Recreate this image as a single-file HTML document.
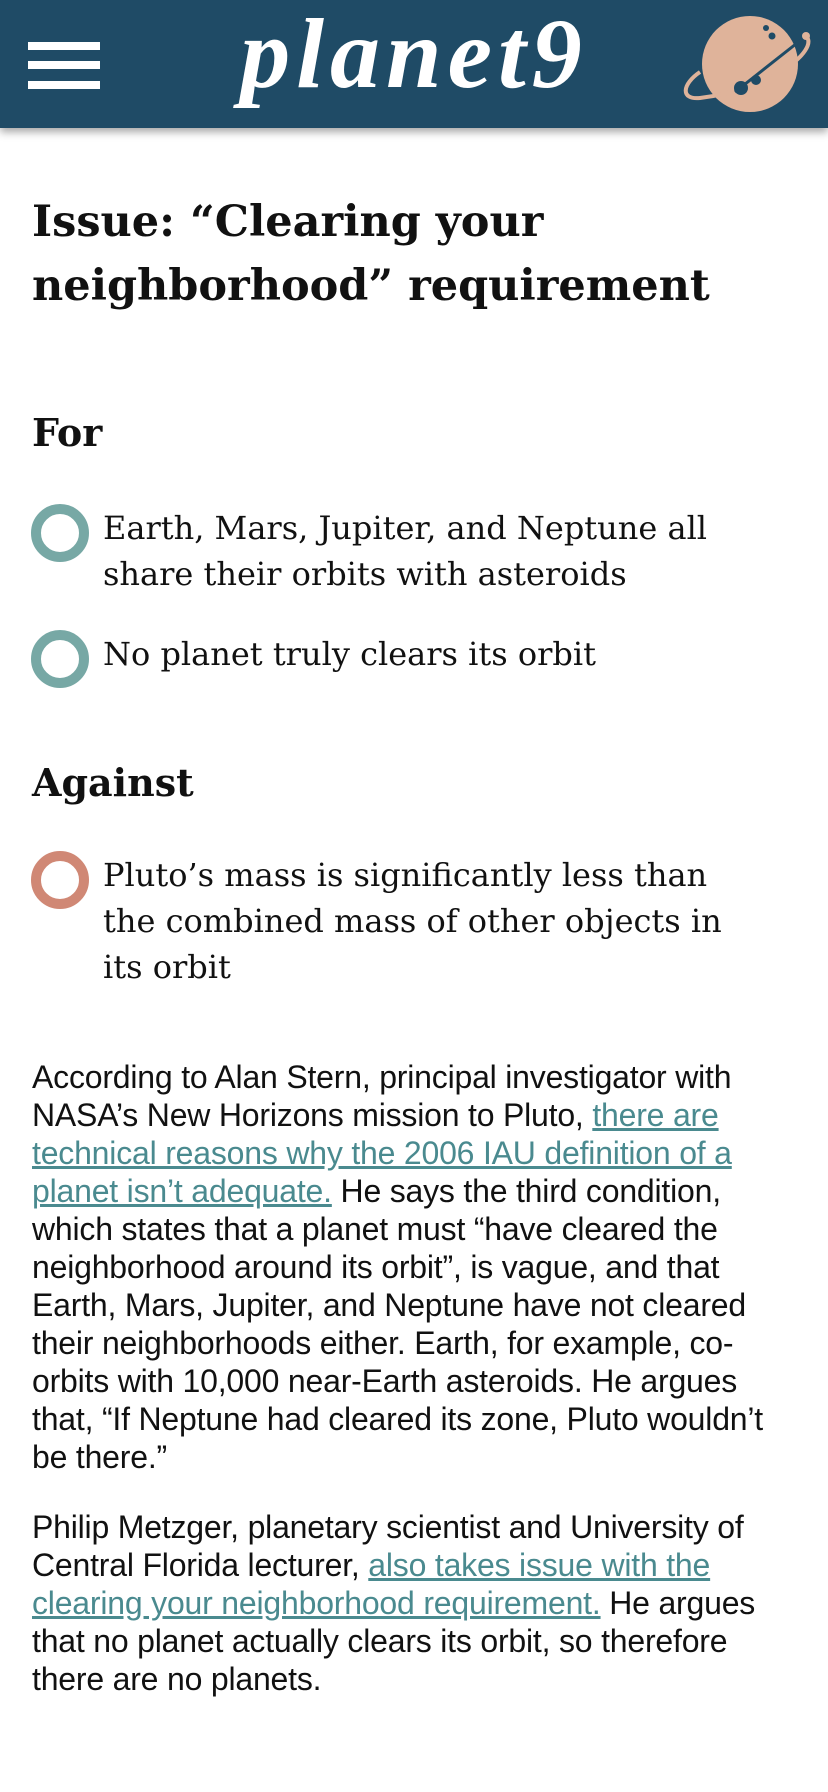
<!DOCTYPE html>
<html><head><meta charset="utf-8"><style>
*{margin:0;padding:0;box-sizing:border-box}
body{width:828px;height:1792px;background:#fff;position:relative;overflow:hidden;font-family:"DejaVu Serif",serif;color:#111}
.hdr{position:absolute;left:0;top:0;width:828px;height:128px;background:#1f4b66;box-shadow:0 4px 8px rgba(0,0,0,.35)}
.bar{position:absolute;left:28px;width:72px;height:8px;background:#fff}
.logo{position:absolute;left:0;width:828px;top:4px;text-align:center;font:italic bold 100px/1 "Liberation Serif",serif;color:#fff;letter-spacing:6px}
h1{position:absolute;left:32px;top:190px;font:bold 43px/64px "DejaVu Serif",serif;color:#111}
.h2{position:absolute;left:32px;font:bold 38px "DejaVu Serif",serif}
.ring{position:absolute;left:31px;width:58px;height:58px;border-radius:50%;border:10px solid #77a8a5}
.ring.red{border-color:#d08875}
.item{position:absolute;left:103px;font:32px/46px "DejaVu Serif",serif;white-space:nowrap}
.p{position:absolute;left:32px;font:32px/38px "Liberation Sans",sans-serif;white-space:nowrap;color:#111;letter-spacing:-0.2px}
a{color:#4a8a8f;text-decoration:underline}
</style></head><body>
<div class="hdr">
 <div>
  <div class="bar" style="top:42px"></div><div class="bar" style="top:61px"></div><div class="bar" style="top:81px"></div>
 </div>
 <div class="logo">planet9</div>
 <svg style="position:absolute;left:680px;top:10px" width="140" height="110" viewBox="680 10 140 110">
  <ellipse cx="750" cy="64" rx="48" ry="48" fill="#dfb39a"/>
  <path d="M806 36 C820 50 770 90 700 98 C680 100 682 84 700 72" fill="none" stroke="#dfb39a" stroke-width="4"/>
  <path d="M806 36 L735 92" stroke="#1f4b66" stroke-width="3"/>
  <circle cx="741" cy="88" r="7" fill="#1f4b66"/><circle cx="756" cy="80" r="5" fill="#1f4b66"/>
  <circle cx="766" cy="28" r="3" fill="#1f4b66"/><circle cx="772" cy="36" r="3.5" fill="#1f4b66"/>
  <circle cx="806" cy="36" r="4" fill="#dfb39a"/>
 </svg>
</div>
<h1>Issue: “Clearing your<br>neighborhood” requirement</h1>
<div class="h2" style="top:410px">For</div>
<div class="ring" style="top:504px"></div>
<div class="item" style="top:505px">Earth, Mars, Jupiter, and Neptune all<br>share their orbits with asteroids</div>
<div class="ring" style="top:630px"></div>
<div class="item" style="top:631px">No planet truly clears its orbit</div>
<div class="h2" style="top:760px">Against</div>
<div class="ring red" style="top:851px"></div>
<div class="item" style="top:852px">Pluto’s mass is significantly less than<br>the combined mass of other objects in<br>its orbit</div>
<div class="p" style="top:1058px">According to Alan Stern, principal investigator with<br>NASA’s New Horizons mission to Pluto, <a>there are<br>technical reasons why the 2006 IAU definition of a<br>planet isn’t adequate.</a> He says the third condition,<br>which states that a planet must “have cleared the<br>neighborhood around its orbit”, is vague, and that<br>Earth, Mars, Jupiter, and Neptune have not cleared<br>their neighborhoods either. Earth, for example, co-<br>orbits with 10,000 near-Earth asteroids. He argues<br>that, “If Neptune had cleared its zone, Pluto wouldn’t<br>be there.”</div>
<div class="p" style="top:1508px">Philip Metzger, planetary scientist and University of<br>Central Florida lecturer, <a>also takes issue with the<br>clearing your neighborhood requirement.</a> He argues<br>that no planet actually clears its orbit, so therefore<br>there are no planets.</div>
</body></html>
